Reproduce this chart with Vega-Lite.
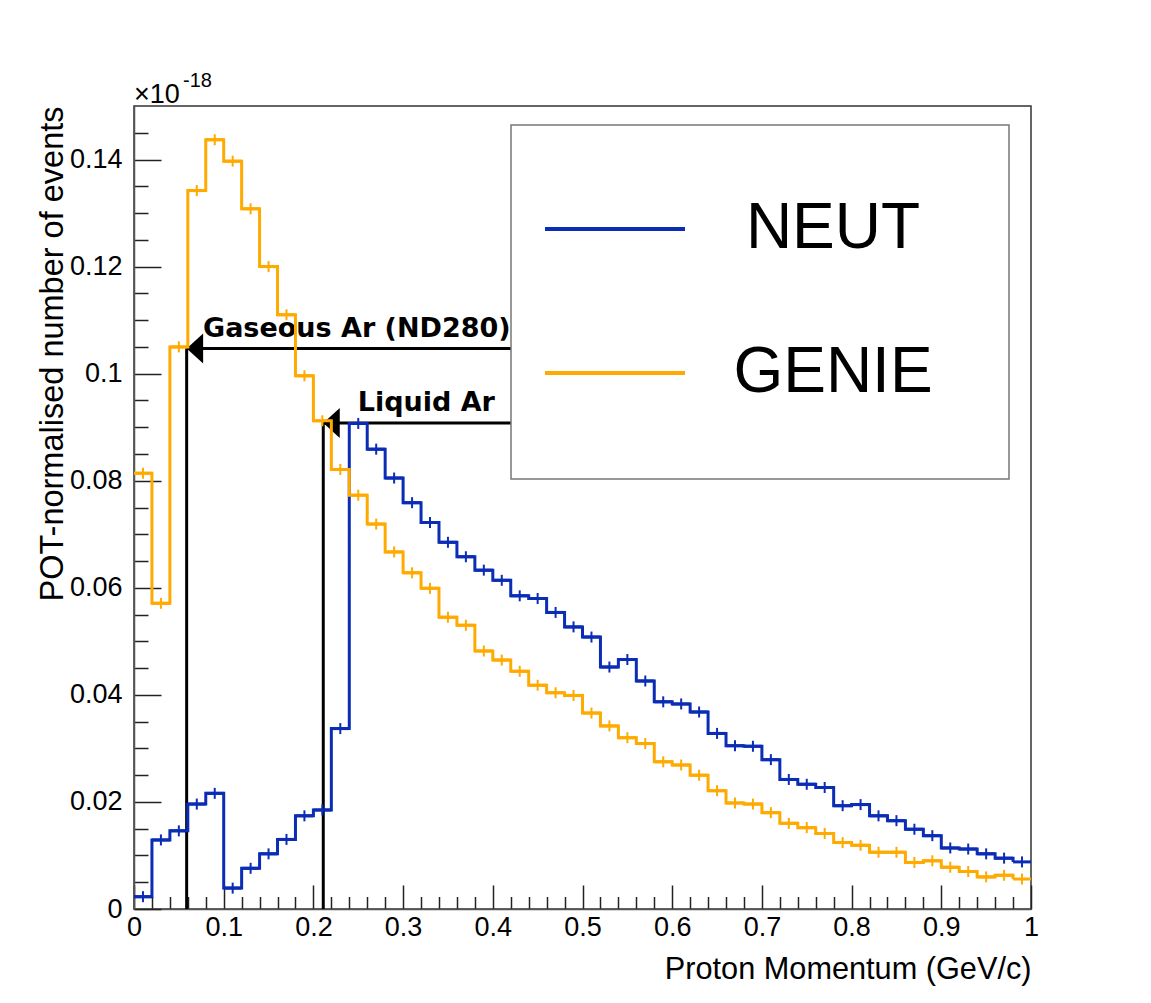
{
  "$schema": "https://vega.github.io/schema/vega-lite/v6.json",
  "width": 897,
  "height": 803,
  "autosize": {"type": "none"},
  "padding": {"left": 134, "top": 106, "right": 120, "bottom": 94},
  "background": "white",
  "config": {
    "view": {"stroke": "#333", "strokeWidth": 1.5},
    "axis": {"grid": false, "labelFont": "Liberation Sans", "titleFont": "Liberation Sans", "labelColor": "black", "titleColor": "black", "titleFontWeight": "normal", "domainColor": "#555", "tickColor": "#222", "tickWidth": 1.5, "domainWidth": 1.5, "labelFlush": false, "labelOverlap": false},
    "legend": {
      "orient": "none", "legendX": 377, "legendY": 19,
      "padding": 32, "strokeColor": "#777", "fillColor": "white", "strokeWidth": 1.5,
      "symbolType": "stroke", "symbolSize": 19600, "symbolStrokeWidth": 4,
      "labelFontSize": 64, "labelFont": "Liberation Sans", "labelColor": "black", "labelAlign": "center", "labelOffset": 146, "labelLimit": 400,
      "rowPadding": 40, "titleOrient": "bottom", "titleFont": "Liberation Sans", "titleFontSize": 30.6, "titlePadding": 11, "titleOpacity": 0, "titleLimit": 1000
    }
  },
  "datasets": {
    "hist": [
      {"model":"NEUT","lo":0,"hi":0.02,"v":0.0023},
      {"model":"NEUT","lo":0.02,"hi":0.04,"v":0.0129},
      {"model":"NEUT","lo":0.04,"hi":0.06,"v":0.0146},
      {"model":"NEUT","lo":0.06,"hi":0.08,"v":0.0196},
      {"model":"NEUT","lo":0.08,"hi":0.1,"v":0.0216},
      {"model":"NEUT","lo":0.1,"hi":0.12,"v":0.0039},
      {"model":"NEUT","lo":0.12,"hi":0.14,"v":0.0076},
      {"model":"NEUT","lo":0.14,"hi":0.16,"v":0.0103},
      {"model":"NEUT","lo":0.16,"hi":0.18,"v":0.0130},
      {"model":"NEUT","lo":0.18,"hi":0.2,"v":0.0174},
      {"model":"NEUT","lo":0.2,"hi":0.22,"v":0.0185},
      {"model":"NEUT","lo":0.22,"hi":0.24,"v":0.0337},
      {"model":"NEUT","lo":0.24,"hi":0.26,"v":0.0907},
      {"model":"NEUT","lo":0.26,"hi":0.28,"v":0.0859},
      {"model":"NEUT","lo":0.28,"hi":0.3,"v":0.0805},
      {"model":"NEUT","lo":0.3,"hi":0.32,"v":0.0759},
      {"model":"NEUT","lo":0.32,"hi":0.34,"v":0.0722},
      {"model":"NEUT","lo":0.34,"hi":0.36,"v":0.0685},
      {"model":"NEUT","lo":0.36,"hi":0.38,"v":0.0658},
      {"model":"NEUT","lo":0.38,"hi":0.4,"v":0.0633},
      {"model":"NEUT","lo":0.4,"hi":0.42,"v":0.0614},
      {"model":"NEUT","lo":0.42,"hi":0.44,"v":0.0585},
      {"model":"NEUT","lo":0.44,"hi":0.46,"v":0.0580},
      {"model":"NEUT","lo":0.46,"hi":0.48,"v":0.0554},
      {"model":"NEUT","lo":0.48,"hi":0.5,"v":0.0527},
      {"model":"NEUT","lo":0.5,"hi":0.52,"v":0.0508},
      {"model":"NEUT","lo":0.52,"hi":0.54,"v":0.0452},
      {"model":"NEUT","lo":0.54,"hi":0.56,"v":0.0466},
      {"model":"NEUT","lo":0.56,"hi":0.58,"v":0.0426},
      {"model":"NEUT","lo":0.58,"hi":0.6,"v":0.0387},
      {"model":"NEUT","lo":0.6,"hi":0.62,"v":0.0383},
      {"model":"NEUT","lo":0.62,"hi":0.64,"v":0.0368},
      {"model":"NEUT","lo":0.64,"hi":0.66,"v":0.0328},
      {"model":"NEUT","lo":0.66,"hi":0.68,"v":0.0305},
      {"model":"NEUT","lo":0.68,"hi":0.7,"v":0.0304},
      {"model":"NEUT","lo":0.7,"hi":0.72,"v":0.0279},
      {"model":"NEUT","lo":0.72,"hi":0.74,"v":0.0242},
      {"model":"NEUT","lo":0.74,"hi":0.76,"v":0.0233},
      {"model":"NEUT","lo":0.76,"hi":0.78,"v":0.0227},
      {"model":"NEUT","lo":0.78,"hi":0.8,"v":0.0193},
      {"model":"NEUT","lo":0.8,"hi":0.82,"v":0.0195},
      {"model":"NEUT","lo":0.82,"hi":0.84,"v":0.0174},
      {"model":"NEUT","lo":0.84,"hi":0.86,"v":0.0165},
      {"model":"NEUT","lo":0.86,"hi":0.88,"v":0.0149},
      {"model":"NEUT","lo":0.88,"hi":0.9,"v":0.0137},
      {"model":"NEUT","lo":0.9,"hi":0.92,"v":0.0114},
      {"model":"NEUT","lo":0.92,"hi":0.94,"v":0.0112},
      {"model":"NEUT","lo":0.94,"hi":0.96,"v":0.0103},
      {"model":"NEUT","lo":0.96,"hi":0.98,"v":0.0095},
      {"model":"NEUT","lo":0.98,"hi":1,"v":0.0088},
      {"model":"GENIE","lo":0,"hi":0.02,"v":0.0814},
      {"model":"GENIE","lo":0.02,"hi":0.04,"v":0.0571},
      {"model":"GENIE","lo":0.04,"hi":0.06,"v":0.1050},
      {"model":"GENIE","lo":0.06,"hi":0.08,"v":0.1342},
      {"model":"GENIE","lo":0.08,"hi":0.1,"v":0.1437},
      {"model":"GENIE","lo":0.1,"hi":0.12,"v":0.1397},
      {"model":"GENIE","lo":0.12,"hi":0.14,"v":0.1308},
      {"model":"GENIE","lo":0.14,"hi":0.16,"v":0.1200},
      {"model":"GENIE","lo":0.16,"hi":0.18,"v":0.1110},
      {"model":"GENIE","lo":0.18,"hi":0.2,"v":0.0996},
      {"model":"GENIE","lo":0.2,"hi":0.22,"v":0.0912},
      {"model":"GENIE","lo":0.22,"hi":0.24,"v":0.0821},
      {"model":"GENIE","lo":0.24,"hi":0.26,"v":0.0773},
      {"model":"GENIE","lo":0.26,"hi":0.28,"v":0.0719},
      {"model":"GENIE","lo":0.28,"hi":0.3,"v":0.0667},
      {"model":"GENIE","lo":0.3,"hi":0.32,"v":0.0628},
      {"model":"GENIE","lo":0.32,"hi":0.34,"v":0.0599},
      {"model":"GENIE","lo":0.34,"hi":0.36,"v":0.0545},
      {"model":"GENIE","lo":0.36,"hi":0.38,"v":0.0530},
      {"model":"GENIE","lo":0.38,"hi":0.4,"v":0.0482},
      {"model":"GENIE","lo":0.4,"hi":0.42,"v":0.0465},
      {"model":"GENIE","lo":0.42,"hi":0.44,"v":0.0444},
      {"model":"GENIE","lo":0.44,"hi":0.46,"v":0.0418},
      {"model":"GENIE","lo":0.46,"hi":0.48,"v":0.0404},
      {"model":"GENIE","lo":0.48,"hi":0.5,"v":0.0399},
      {"model":"GENIE","lo":0.5,"hi":0.52,"v":0.0366},
      {"model":"GENIE","lo":0.52,"hi":0.54,"v":0.0342},
      {"model":"GENIE","lo":0.54,"hi":0.56,"v":0.0320},
      {"model":"GENIE","lo":0.56,"hi":0.58,"v":0.0309},
      {"model":"GENIE","lo":0.58,"hi":0.6,"v":0.0275},
      {"model":"GENIE","lo":0.6,"hi":0.62,"v":0.0269},
      {"model":"GENIE","lo":0.62,"hi":0.64,"v":0.0250},
      {"model":"GENIE","lo":0.64,"hi":0.66,"v":0.0221},
      {"model":"GENIE","lo":0.66,"hi":0.68,"v":0.0198},
      {"model":"GENIE","lo":0.68,"hi":0.7,"v":0.0196},
      {"model":"GENIE","lo":0.7,"hi":0.72,"v":0.0180},
      {"model":"GENIE","lo":0.72,"hi":0.74,"v":0.0160},
      {"model":"GENIE","lo":0.74,"hi":0.76,"v":0.0152},
      {"model":"GENIE","lo":0.76,"hi":0.78,"v":0.0141},
      {"model":"GENIE","lo":0.78,"hi":0.8,"v":0.0124},
      {"model":"GENIE","lo":0.8,"hi":0.82,"v":0.0119},
      {"model":"GENIE","lo":0.82,"hi":0.84,"v":0.0106},
      {"model":"GENIE","lo":0.84,"hi":0.86,"v":0.0106},
      {"model":"GENIE","lo":0.86,"hi":0.88,"v":0.0087},
      {"model":"GENIE","lo":0.88,"hi":0.9,"v":0.0090},
      {"model":"GENIE","lo":0.9,"hi":0.92,"v":0.0078},
      {"model":"GENIE","lo":0.92,"hi":0.94,"v":0.0070},
      {"model":"GENIE","lo":0.94,"hi":0.96,"v":0.0060},
      {"model":"GENIE","lo":0.96,"hi":0.98,"v":0.0063},
      {"model":"GENIE","lo":0.98,"hi":1,"v":0.0056}
    ],
    "markers": [
      {"label": "Gaseous Ar (ND280)", "p": 0.0587, "n": 0.1047, "end": 0.421, "lx": 0.0769},
      {"label": "Liquid Ar", "p": 0.211, "n": 0.0908, "end": 0.421, "lx": 0.2494}
    ]
  },
  "layer": [
    {
      "data": {"name": "hist"},
      "mark": {"type": "rule", "strokeWidth": 3},
      "encoding": {
        "x": {"field": "lo", "type": "quantitative", "scale": {"domain": [0, 1], "nice": false},
          "axis": {"orient": "bottom", "tickCount": 1000, "values": [0, 0.02, 0.04, 0.06, 0.08, 0.1, 0.12, 0.14, 0.16, 0.18, 0.2, 0.22, 0.24, 0.26, 0.28, 0.3, 0.32, 0.34, 0.36, 0.38, 0.4, 0.42, 0.44, 0.46, 0.48, 0.5, 0.52, 0.54, 0.56, 0.58, 0.6, 0.62, 0.64, 0.66, 0.68, 0.7, 0.72, 0.74, 0.76, 0.78, 0.8, 0.82, 0.84, 0.86, 0.88, 0.9, 0.92, 0.94, 0.96, 0.98, 1],
            "labelExpr": "abs(datum.value * 10 - round(datum.value * 10)) < 0.000001 ? format(datum.value, '~g') : ''",
            "tickSize": {"condition": {"test": "abs(datum.value * 10 - round(datum.value * 10)) < 0.000001", "value": -24}, "value": -12.5},
            "labelPadding": 29, "labelFontSize": 27, "title": "Proton Momentum (GeV/c)", "titleFontSize": 30.7, "titleAnchor": "end", "titlePadding": 3}},
        "x2": {"field": "hi"},
        "y": {"field": "v", "type": "quantitative", "scale": {"domain": [0, 0.15], "nice": false},
          "axis": {"orient": "left", "tickCount": 1000, "values": [0, 0.005, 0.01, 0.015, 0.02, 0.025, 0.03, 0.035, 0.04, 0.045, 0.05, 0.055, 0.06, 0.065, 0.07, 0.075, 0.08, 0.085, 0.09, 0.095, 0.1, 0.105, 0.11, 0.115, 0.12, 0.125, 0.13, 0.135, 0.14, 0.145],
            "labelExpr": "abs(datum.value * 50 - round(datum.value * 50)) < 0.000001 ? format(datum.value, '~g') : ''",
            "tickSize": {"condition": {"test": "abs(datum.value * 50 - round(datum.value * 50)) < 0.000001", "value": -27}, "value": -14},
            "labelPadding": 39, "labelFontSize": 27, "title": "POT-normalised number of events", "titleFontSize": 32.5, "titleAnchor": "end", "titlePadding": 0}},
        "color": {"field": "model", "type": "nominal", "title": "MMMMMMMMMMMMMMMMM", "scale": {"domain": ["NEUT", "GENIE"], "range": ["#0b2cb5", "#ffaa00"]}}
      }
    },
    {
      "data": {"name": "markers"},
      "mark": {"type": "rule", "color": "black", "strokeWidth": 3},
      "encoding": {
        "x": {"field": "p", "type": "quantitative"},
        "y": {"field": "n", "type": "quantitative"},
        "y2": {"datum": 0}
      }
    },
    {
      "data": {"name": "markers"},
      "mark": {"type": "rule", "color": "black", "strokeWidth": 3},
      "encoding": {
        "x": {"field": "p", "type": "quantitative"},
        "x2": {"field": "end"},
        "y": {"field": "n", "type": "quantitative"}
      }
    },
    {
      "data": {"name": "markers"},
      "mark": {"type": "point", "shape": "M0,0L1.1,-1L1.1,1Z", "size": 900, "filled": true, "color": "black", "opacity": 1, "strokeWidth": 0},
      "encoding": {
        "x": {"field": "p", "type": "quantitative"},
        "y": {"field": "n", "type": "quantitative"}
      }
    },
    {
      "data": {"name": "markers"},
      "mark": {"type": "text", "font": "DejaVu Sans", "fontWeight": "bold", "fontSize": 27, "align": "left", "baseline": "alphabetic", "dy": -12, "color": "black"},
      "encoding": {
        "x": {"field": "lx", "type": "quantitative"},
        "y": {"field": "n", "type": "quantitative"},
        "text": {"field": "label"}
      }
    },
    {
      "data": {"values": [{"s": "×10"}]},
      "mark": {"type": "text", "font": "Liberation Sans", "fontSize": 27, "align": "left", "baseline": "alphabetic", "dy": -3, "color": "black"},
      "encoding": {
        "x": {"datum": 0, "type": "quantitative"},
        "y": {"datum": 0.15, "type": "quantitative"},
        "text": {"field": "s"}
      }
    },
    {
      "data": {"values": [{"s": "-18"}]},
      "mark": {"type": "text", "font": "Liberation Sans", "fontSize": 20, "align": "left", "baseline": "alphabetic", "dx": 49, "dy": -19, "color": "black"},
      "encoding": {
        "x": {"datum": 0, "type": "quantitative"},
        "y": {"datum": 0.15, "type": "quantitative"},
        "text": {"field": "s"}
      }
    },
    {
      "data": {"name": "hist"},
      "mark": {"type": "line", "interpolate": "step-after", "strokeWidth": 3},
      "encoding": {
        "x": {"field": "lo", "type": "quantitative"},
        "y": {"field": "v", "type": "quantitative"},
        "color": {"field": "model", "type": "nominal"}
      }
    },
    {
      "data": {"name": "hist"},
      "mark": {"type": "tick", "orient": "vertical", "size": 11, "thickness": 2, "xOffset": 8.97, "opacity": 1},
      "encoding": {
        "x": {"field": "lo", "type": "quantitative"},
        "y": {"field": "v", "type": "quantitative"},
        "color": {"field": "model", "type": "nominal"}
      }
    }
  ]
}
